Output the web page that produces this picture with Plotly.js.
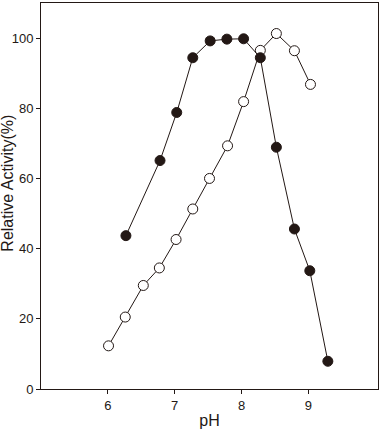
<!DOCTYPE html>
<html>
<head>
<meta charset="utf-8">
<script src="https://cdn.plot.ly/plotly-3.0.1.min.js"></script>
<style>html,body{margin:0;padding:0;background:#fff;}#chart{width:379px;height:429px;}</style>
</head>
<body>
<div id="chart"></div>
<script>
// Filled circles series
const filledPH = [6.27, 6.78, 7.03, 7.27, 7.53, 7.78, 8.03, 8.28, 8.52, 8.79, 9.02, 9.29];
const filledActivity = [43.7, 65.1, 78.8, 94.4, 99.2, 99.7, 99.8, 94.4, 68.9, 45.6, 33.7, 7.9];
// Open circles series
const openPH = [6.01, 6.26, 6.53, 6.77, 7.02, 7.27, 7.52, 7.79, 8.03, 8.28, 8.52, 8.79, 9.03];
const openActivity = [12.3, 20.5, 29.5, 34.5, 42.6, 51.3, 60.0, 69.3, 81.9, 96.5, 101.3, 96.4, 86.8];
const xTicks = [6, 7, 8, 9];
const yTicks = [0, 20, 40, 60, 80, 100];

const lineStyle = {color: '#231815', width: 1};
const traces = [
  {
    x: openPH, y: openActivity, type: 'scatter', mode: 'lines+markers',
    line: lineStyle,
    marker: {symbol: 'circle', size: 10, color: '#ffffff', line: {color: '#231815', width: 1}},
    cliponaxis: false, hoverinfo: 'skip'
  },
  {
    x: filledPH, y: filledActivity, type: 'scatter', mode: 'lines+markers',
    line: lineStyle,
    marker: {symbol: 'circle', size: 10, color: '#231815', line: {color: '#231815', width: 1}},
    cliponaxis: false, hoverinfo: 'skip'
  }
];

const layout = {
  width: 379, height: 429,
  margin: {l: 41, r: 1, t: 3, b: 40},
  paper_bgcolor: '#ffffff', plot_bgcolor: '#ffffff',
  showlegend: false,
  font: {family: 'Liberation Sans, Arial, sans-serif', color: '#231815', size: 13},
  xaxis: {
    range: [5, 10.04], tickvals: xTicks, ticktext: xTicks.map(String),
    ticks: 'outside', ticklen: 4, tickwidth: 1, tickcolor: '#231815',
    showline: true, linecolor: '#231815', linewidth: 1, mirror: true,
    showgrid: false, zeroline: false,
    tickfont: {size: 13},
    title: {text: 'pH', font: {size: 16}, standoff: 4}
  },
  yaxis: {
    range: [0, 110], tickvals: yTicks, ticktext: yTicks.map(String),
    ticks: 'outside', ticklen: 4, tickwidth: 1, tickcolor: '#231815',
    showline: true, linecolor: '#231815', linewidth: 1, mirror: true,
    showgrid: false, zeroline: false,
    tickfont: {size: 13}
  },
  annotations: [{
    text: 'Relative Activity(%)', textangle: -90,
    xref: 'paper', yref: 'paper', x: 0, y: 0.532,
    xanchor: 'center', yanchor: 'middle', xshift: -33,
    showarrow: false, font: {size: 16, color: '#231815'}
  }]
};

Plotly.newPlot('chart', traces, layout, {displayModeBar: false, staticPlot: true});
</script>
</body>
</html>
